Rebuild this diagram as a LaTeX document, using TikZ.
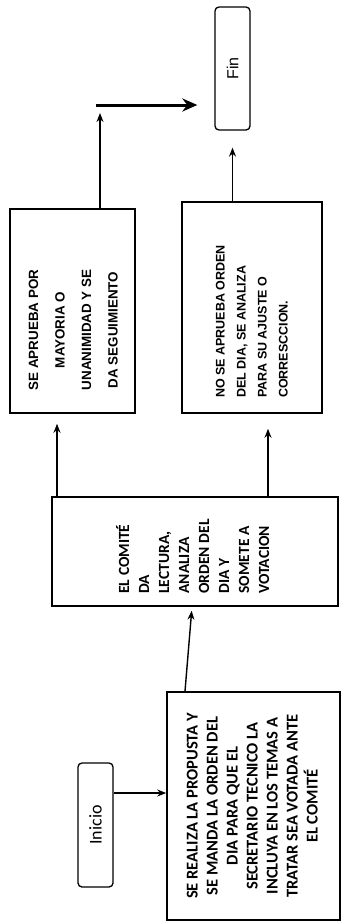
\documentclass[tikz,border=0pt]{standalone}
\usepackage{fontspec}
\usepackage{graphicx}
\usetikzlibrary{arrows.meta}
\newfontfamily\calibrifont{Carlito}
\newfontfamily\arialfont{Liberation Sans}
\pgfdeclarelayer{edgelayer}
\pgfdeclarelayer{nodelayer}
\pgfsetlayers{edgelayer,nodelayer,main}
\tikzstyle{none}=[inner sep=0pt]
\tikzstyle{terminal}=[rectangle, rounded corners=4pt, draw=black, line width=1.3pt, fill=white, minimum width=35pt, minimum height=124pt, inner sep=0pt]
\tikzstyle{process}=[rectangle, draw=black, line width=1.6pt, fill=white, inner sep=0pt]
\tikzstyle{flow}=[draw=black, line width=1.4pt, -{Stealth[length=9pt,width=7pt]}]
\tikzstyle{bigflow}=[draw=black, line width=3pt, -{Stealth[length=15pt,width=13pt]}]
\newcommand{\vtext}[1]{\rotatebox{90}{#1}}

\begin{document}
\begin{tikzpicture}[x=1pt, y=-1pt]
			\useasboundingbox (0,0) rectangle (343,924);
			\begin{pgfonlayer}{nodelayer}
			\node [style=terminal] (0) at (95.5, 825) {\vtext{\calibrifont\fontsize{18}{22}\selectfont Inicio}};
			\node [style=process, minimum width=173pt, minimum height=228pt] (1) at (253.5, 806) {\vtext{\calibrifont\bfseries\fontsize{16.5}{20}\selectfont
				\begin{tabular}{@{}c@{}}SE REALIZA LA PROPUSTA Y\\ SE MANDA LA ORDEN DEL\\ DIA PARA QUE EL\\ SECRETARIO TECNICO LA\\ INCLUYA EN LOS TEMAS A\\ TRATAR SEA VOTADA ANTE\\ EL COMITÉ\end{tabular}}};
			\node [style=process, minimum width=286pt, minimum height=109pt] (2) at (195, 551.5) {\vtext{\calibrifont\bfseries\fontsize{15.5}{20}\selectfont
				\begin{tabular}{@{}l@{}}EL COMITÉ\\ DA\\ LECTURA,\\ ANALIZA\\ ORDEN DEL\\ DIA Y\\ SOMETE A\\ VOTACION\end{tabular}\hspace{10pt}}};
			\node [style=process, minimum width=125pt, minimum height=204pt] (3) at (72.5, 311) {\vtext{\arialfont\bfseries\fontsize{13.4}{26.5}\selectfont
				\begin{tabular}{@{}c@{}}SE APRUEBA POR\\ MAYORIA O\\ UNANIMIDAD Y SE\\ DA SEGUIMIENTO\end{tabular}\hspace{38pt}}};
			\node [style=process, minimum width=140pt, minimum height=211pt] (4) at (252, 307.5) {\vtext{\arialfont\bfseries\fontsize{12.5}{21}\selectfont
				\begin{tabular}{@{}l@{}}NO SE APRUEBA ORDEN\\ DEL DIA, SE ANALIZA\\ PARA SU AJUSTE O\\ CORRESCCION.\end{tabular}\hspace{28pt}}};
			\node [style=terminal, minimum height=123pt] (5) at (232.5, 68.5) {\vtext{\arialfont\fontsize{16}{20}\selectfont Fin}};
			\coordinate (6) at (96, 105);
			\coordinate (7) at (100, 105);
			\end{pgfonlayer}
			\begin{pgfonlayer}{edgelayer}
			\draw [style=flow] ([yshift=32pt]0.east) to ([yshift=13pt]1.west);
			\draw [style=flow, shorten >=4pt] ([xshift=-68.5pt]1.north) to ([xshift=-3pt]2.south);
			\draw [style=flow, shorten >=10pt] ([xshift=-138pt]2.north) to ([xshift=-15.5pt]3.south);
			\draw [style=flow, shorten >=15pt] ([xshift=73pt]2.north) to ([xshift=16pt]4.south);
			\draw [style=flow, shorten >=17pt] (5.south |- 4.north) to (5.south);
			\draw [style=flow, shorten >=8pt] (7 |- 3.north) to (7);
			\draw [style=bigflow, shorten >=17pt] (6) to (6 -| 5.west);
			\end{pgfonlayer}
\end{tikzpicture}
\end{document}
